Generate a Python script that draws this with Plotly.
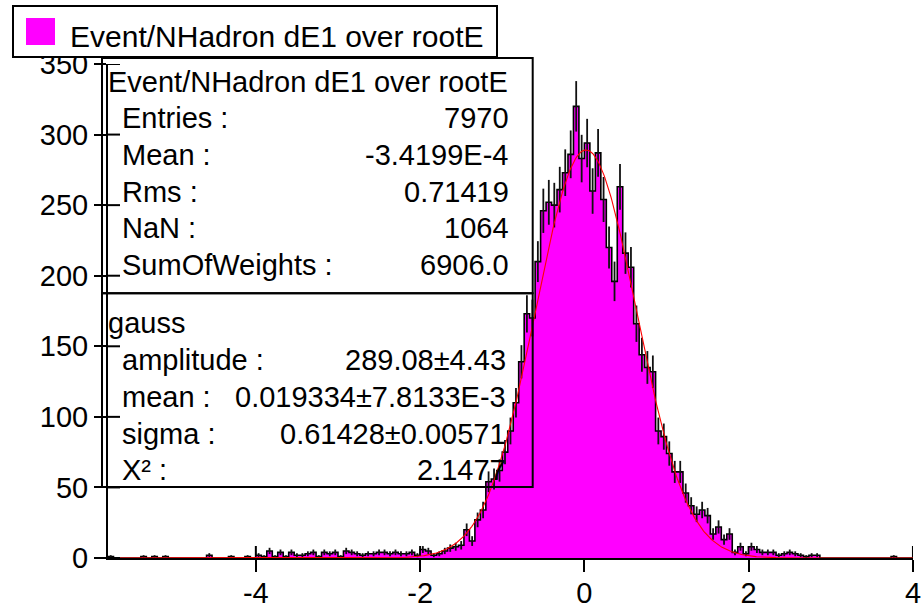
import numpy as np
import plotly.graph_objects as go

# ---------------- data ----------------
hist_title = "Event/NHadron dE1 over rootE"
bin_width = 1 / 15
first_edge = -5.8
counts = [
    1, 0, 0, 0, 0, 0, 1, 0, 1, 0,          # -5.80 ...
    1, 0, 0, 0, 0, 0, 0, 0, 2, 0,
    0, 0, 1, 0, 0, 1, 0, 2, 1, 5,
    1, 4, 1, 4, 2, 2, 3, 4, 1, 4,
    3, 4, 1, 5, 4, 3, 2, 3, 3, 4,
    4, 3, 4, 3, 3, 4, 2, 6, 5, 2,          # ends at -1.8667
    3, 5, 7, 8, 9, 20, 12, 27, 34, 54,
    56, 62, 75, 90, 110, 139, 173, 170, 210, 246,
    252, 250, 261, 273, 286, 320, 283, 294, 260, 287,
    254, 220, 196, 263, 216, 206, 166, 144, 135, 132,
    90, 86, 74, 61, 61, 46, 37, 31, 34, 30,
    17, 22, 13, 17, 4, 8, 3, 8, 6, 4,
    4, 4, 2, 3, 4, 3, 2, 1, 2, 2,
    0, 0, 0, 0, 0, 0, 0, 0, 0, 0,
    0, 0, 0, 1, 0, 0, 0,
]
fit_amplitude = 289.08
fit_mean = 0.019334
fit_sigma = 0.61428

x_range = [-5.8, 4.0005]
y_range = [0, 350]
x_tick_vals = [-4, -2, 0, 2, 4]
x_tick_text = ["-4", "-2", "0", "2", "4"]
y_tick_vals = [0, 50, 100, 150, 200, 250, 300, 350]

stats_labels = ["Entries :", "Mean :", "Rms :", "NaN :", "SumOfWeights :"]
stats_values = ["7970", "-3.4199E-4", "0.71419", "1064", "6906.0"]
fit_name = "gauss"
fit_labels = ["amplitude :", "mean :", "sigma :", "X\u00b2 :"]
fit_values = ["289.08\u00b14.43", "0.019334\u00b17.8133E-3", "0.61428\u00b10.00571", "2.1477"]

# ---------------- layout geometry ----------------
W, H = 921, 608
ML, MR, MT, MB = 108, 8, 64, 50
PW, PH = W - ML - MR, H - MT - MB
FONT = "Liberation Sans, Arial, Helvetica, sans-serif"
FS = 29
MAGENTA = "#FF00FF"


def px(x):
    return (x - ML) / PW


def py(y):
    return (H - MB - y) / PH


counts = np.array(counts, dtype=float)
n = len(counts)
edges = first_edge + bin_width * np.arange(n + 1)
centers = edges[:-1] + bin_width / 2
errors = np.where(counts > 0, np.sqrt(counts), np.nan)

fig = go.Figure()

# filled bars
fig.add_trace(go.Bar(
    x=centers, y=counts, width=bin_width,
    marker=dict(color=MAGENTA, line=dict(width=0)),
    hoverinfo="skip", showlegend=False,
))
# black step outline
fig.add_trace(go.Scatter(
    x=edges, y=np.append(counts, counts[-1]), mode="lines",
    line=dict(color="black", width=1.6, shape="hv"),
    hoverinfo="skip", showlegend=False,
))
# error bars
fig.add_trace(go.Scatter(
    x=centers, y=counts, mode="markers",
    marker=dict(size=0.1, color="rgba(0,0,0,0)"),
    error_y=dict(type="data", array=errors, visible=True, width=0,
                 thickness=1.8, color="#111111"),
    hoverinfo="skip", showlegend=False,
))
# gaussian fit curve
xf = np.linspace(x_range[0], x_range[1], 800)
yf = fit_amplitude * np.exp(-0.5 * ((xf - fit_mean) / fit_sigma) ** 2)
fig.add_trace(go.Scatter(
    x=xf, y=yf, mode="lines", line=dict(color="red", width=1.1),
    hoverinfo="skip", showlegend=False,
))

shapes = []
annotations = []

# inside halves of the crossing ticks
TL = 12
for v in x_tick_vals:
    shapes.append(dict(type="line", xref="x", yref="paper", x0=v, x1=v,
                       y0=0, y1=TL / PH, line=dict(color="black", width=2),
                       layer="below"))
for v in y_tick_vals:
    shapes.append(dict(type="line", xref="paper", yref="y", x0=0, x1=TL / PW,
                       y0=v, y1=v, line=dict(color="black", width=2),
                       layer="above"))

# legend box
shapes.append(dict(type="rect", xref="paper", yref="paper",
                   x0=px(13), x1=px(497), y0=py(57), y1=py(6),
                   line=dict(color="black", width=2), fillcolor="white"))
shapes.append(dict(type="rect", xref="paper", yref="paper",
                   x0=px(26), x1=px(55), y0=py(45), y1=py(18),
                   line=dict(width=0), fillcolor=MAGENTA))
annotations.append(dict(xref="paper", yref="paper", x=px(68), y=py(37),
                        xanchor="left", yanchor="middle", showarrow=False,
                        text=hist_title, font=dict(family=FONT, size=30, color="black")))

# stats boxes
shapes.append(dict(type="rect", xref="paper", yref="paper",
                   x0=px(102), x1=px(532.7), y0=py(293.3), y1=py(58),
                   line=dict(color="black", width=2)))
shapes.append(dict(type="rect", xref="paper", yref="paper",
                   x0=px(102), x1=px(532.7), y0=py(487), y1=py(293.3),
                   line=dict(color="black", width=2)))


def txt(x, y, s, anchor="left"):
    annotations.append(dict(xref="paper", yref="paper", x=px(x), y=py(y),
                            xanchor=anchor, yanchor="middle", showarrow=False,
                            text=s, font=dict(family=FONT, size=FS, color="black")))


txt(106, 82, hist_title)
row_y1 = [118.3, 155, 191.7, 228.3, 265]
for lab, val, yy in zip(stats_labels, stats_values, row_y1):
    txt(120, yy, lab)
    txt(511, yy, val, "right")
txt(106, 323.5, fit_name)
row_y2 = [360, 397, 434, 470]
for lab, val, yy in zip(fit_labels, fit_values, row_y2):
    txt(120, yy, lab)
    txt(508, yy, val, "right")

fig.update_layout(
    width=W, height=H,
    margin=dict(l=ML, r=MR, t=MT, b=MB, pad=0, autoexpand=False),
    paper_bgcolor="white", plot_bgcolor="white",
    bargap=0, barmode="overlay",
    showlegend=False,
    shapes=shapes, annotations=annotations,
    font=dict(family=FONT, size=FS, color="black"),
)
fig.update_xaxes(
    range=x_range, showgrid=False, zeroline=False, automargin=False,
    showline=True, linewidth=2, linecolor="black",
    ticks="outside", ticklen=TL, tickwidth=2, tickcolor="black",
    tickvals=x_tick_vals, ticktext=x_tick_text, ticklabeloverflow="allow",
    ticklabelstandoff=-4,
    tickfont=dict(family=FONT, size=FS, color="black"),
)
fig.update_yaxes(
    range=y_range, showgrid=False, zeroline=False, automargin=False,
    showline=True, linewidth=2, linecolor="black",
    ticks="outside", ticklen=TL, tickwidth=2, tickcolor="black",
    tickvals=y_tick_vals, ticklabeloverflow="allow",
    tickfont=dict(family=FONT, size=FS, color="black"),
)

fig.write_html(
    "out.html",
    config={"displayModeBar": False, "staticPlot": True},
    post_script="document.body.style.margin='0';document.body.style.overflow='hidden';",
)
